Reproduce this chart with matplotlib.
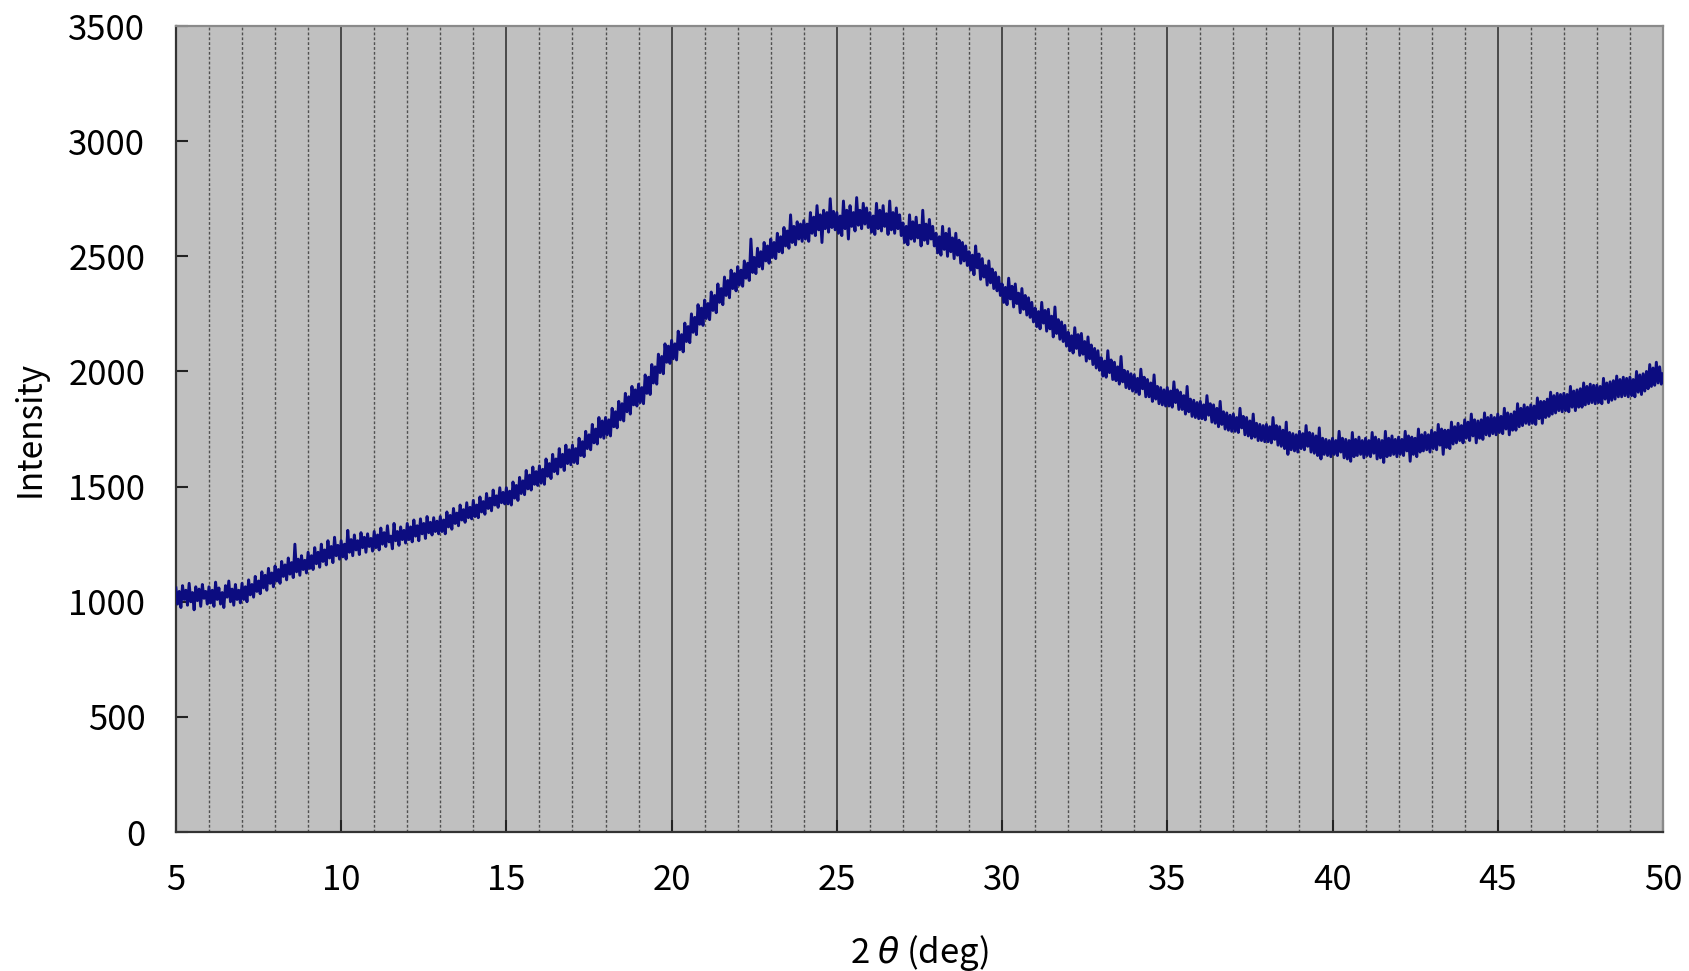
import numpy as np
import matplotlib
matplotlib.use("Agg")
import matplotlib.pyplot as plt
from matplotlib.ticker import MultipleLocator

plt.rcParams['font.family'] = ['Noto Sans CJK JP', 'DejaVu Sans']
plt.rcParams['mathtext.fontset'] = 'dejavusans'

# 2theta start/step (deg)
two_theta_start = 5.0
two_theta_step = 0.05

# Intensity values, one row per degree (d.00 ... d.95)
intensity_rows = [
    [1060, 990, 1045, 975, 1070, 1010, 1050, 985, 1080, 1000, 1040, 965, 1065, 1005, 1055, 980, 1075, 1015, 1045, 990],   # 5
    [1065, 995, 1050, 980, 1085, 1010, 1060, 990, 1040, 975, 1070, 1020, 1090, 1000, 1055, 985, 1075, 1010, 1050, 995],   # 6
    [1080, 1010, 1065, 1000, 1095, 1030, 1075, 1020, 1110, 1045, 1090, 1035, 1130, 1060, 1115, 1050, 1145, 1080, 1125, 1065],  # 7
    [1155, 1090, 1140, 1080, 1175, 1110, 1160, 1095, 1190, 1120, 1170, 1105, 1250, 1130, 1185, 1115, 1200, 1140, 1180, 1125],  # 8
    [1215, 1145, 1200, 1140, 1235, 1165, 1215, 1150, 1250, 1175, 1225, 1160, 1265, 1190, 1240, 1170, 1280, 1200, 1245, 1185],  # 9
    [1265, 1195, 1250, 1185, 1310, 1215, 1270, 1200, 1290, 1225, 1265, 1205, 1300, 1235, 1280, 1215, 1295, 1240, 1275, 1220],  # 10
    [1305, 1235, 1290, 1225, 1320, 1250, 1300, 1240, 1330, 1260, 1285, 1230, 1340, 1265, 1305, 1245, 1325, 1270, 1310, 1255],  # 11
    [1340, 1270, 1325, 1260, 1355, 1285, 1330, 1265, 1360, 1295, 1340, 1275, 1370, 1300, 1345, 1290, 1365, 1305, 1350, 1295],  # 12
    [1370, 1305, 1355, 1295, 1390, 1325, 1375, 1315, 1405, 1340, 1385, 1330, 1420, 1355, 1400, 1345, 1430, 1365, 1410, 1360],  # 13
    [1440, 1370, 1420, 1365, 1455, 1390, 1435, 1380, 1470, 1405, 1450, 1395, 1485, 1420, 1460, 1410, 1495, 1430, 1475, 1425],  # 14
    [1495, 1425, 1480, 1420, 1520, 1450, 1505, 1440, 1540, 1470, 1525, 1465, 1570, 1490, 1550, 1485, 1585, 1510, 1565, 1505],  # 15
    [1590, 1515, 1575, 1510, 1620, 1545, 1600, 1535, 1640, 1565, 1620, 1555, 1665, 1585, 1640, 1570, 1680, 1600, 1660, 1595],  # 16
    [1680, 1605, 1665, 1600, 1710, 1635, 1695, 1630, 1740, 1665, 1725, 1660, 1770, 1690, 1750, 1685, 1800, 1715, 1785, 1710],  # 17
    [1800, 1725, 1790, 1720, 1840, 1760, 1825, 1755, 1870, 1790, 1860, 1785, 1905, 1825, 1890, 1815, 1935, 1855, 1920, 1850],  # 18
    [1945, 1865, 1930, 1860, 1985, 1905, 1975, 1900, 2030, 1950, 2020, 1945, 2075, 1995, 2065, 1990, 2120, 2040, 2110, 2035],  # 19
    [2135, 2055, 2120, 2050, 2175, 2095, 2160, 2085, 2210, 2130, 2195, 2125, 2250, 2170, 2235, 2160, 2290, 2205, 2275, 2200],  # 20
    [2310, 2230, 2295, 2225, 2345, 2265, 2330, 2255, 2380, 2300, 2360, 2290, 2410, 2330, 2395, 2320, 2440, 2360, 2425, 2350],  # 21
    [2455, 2375, 2440, 2370, 2480, 2405, 2470, 2395, 2575, 2430, 2495, 2425, 2535, 2455, 2520, 2445, 2560, 2480, 2545, 2470],  # 22
    [2575, 2495, 2560, 2490, 2600, 2520, 2585, 2515, 2625, 2545, 2610, 2535, 2680, 2560, 2630, 2550, 2650, 2575, 2640, 2565],  # 23
    [2655, 2575, 2640, 2565, 2690, 2600, 2670, 2590, 2720, 2615, 2680, 2560, 2700, 2620, 2690, 2605, 2750, 2625, 2695, 2615],  # 24
    [2690, 2600, 2675, 2590, 2740, 2620, 2700, 2575, 2720, 2630, 2690, 2610, 2755, 2635, 2700, 2620, 2730, 2640, 2710, 2625],  # 25
    [2690, 2605, 2675, 2595, 2730, 2620, 2700, 2610, 2720, 2630, 2685, 2595, 2740, 2615, 2690, 2600, 2710, 2620, 2680, 2590],  # 26
    [2645, 2560, 2630, 2550, 2680, 2575, 2650, 2565, 2670, 2580, 2635, 2545, 2700, 2570, 2640, 2555, 2660, 2575, 2630, 2545],  # 27
    [2600, 2515, 2585, 2505, 2630, 2530, 2600, 2500, 2620, 2520, 2580, 2490, 2600, 2505, 2570, 2470, 2560, 2480, 2545, 2460],  # 28
    [2520, 2440, 2505, 2420, 2545, 2450, 2510, 2400, 2490, 2410, 2460, 2375, 2480, 2385, 2445, 2360, 2430, 2350, 2410, 2330],  # 29
    [2380, 2300, 2365, 2290, 2405, 2315, 2370, 2280, 2380, 2295, 2340, 2255, 2360, 2270, 2330, 2245, 2320, 2235, 2300, 2215],  # 30
    [2275, 2195, 2260, 2185, 2300, 2210, 2265, 2175, 2270, 2185, 2240, 2150, 2280, 2165, 2225, 2140, 2215, 2130, 2200, 2110],  # 31
    [2170, 2090, 2155, 2080, 2190, 2100, 2160, 2070, 2165, 2075, 2130, 2045, 2150, 2055, 2115, 2030, 2100, 2015, 2090, 2005],  # 32
    [2060, 1980, 2045, 1975, 2090, 1995, 2050, 1965, 2040, 1960, 2020, 1945, 2065, 1955, 2005, 1930, 2000, 1925, 1990, 1915],  # 33
    [1985, 1910, 1970, 1900, 2010, 1925, 1975, 1890, 1965, 1890, 1950, 1870, 1985, 1880, 1935, 1860, 1930, 1855, 1920, 1850],  # 34
    [1930, 1850, 1915, 1845, 1955, 1865, 1920, 1835, 1910, 1835, 1895, 1815, 1935, 1825, 1880, 1805, 1875, 1800, 1865, 1795],  # 35
    [1870, 1795, 1855, 1790, 1895, 1810, 1860, 1780, 1855, 1775, 1840, 1760, 1870, 1770, 1825, 1750, 1820, 1745, 1810, 1740],  # 36
    [1815, 1740, 1800, 1735, 1840, 1755, 1805, 1725, 1800, 1720, 1785, 1710, 1815, 1715, 1775, 1700, 1770, 1700, 1765, 1695],  # 37
    [1770, 1695, 1760, 1690, 1800, 1705, 1765, 1680, 1760, 1675, 1745, 1665, 1780, 1640, 1735, 1660, 1730, 1655, 1725, 1650],  # 38
    [1740, 1665, 1730, 1660, 1765, 1675, 1735, 1650, 1730, 1645, 1720, 1635, 1755, 1620, 1710, 1640, 1705, 1635, 1700, 1630],  # 39
    [1710, 1640, 1700, 1635, 1740, 1650, 1710, 1625, 1705, 1620, 1700, 1610, 1735, 1630, 1705, 1635, 1715, 1640, 1700, 1625],  # 40
    [1710, 1635, 1700, 1630, 1735, 1645, 1715, 1620, 1705, 1625, 1700, 1605, 1740, 1630, 1710, 1635, 1720, 1640, 1705, 1630],  # 41
    [1715, 1640, 1705, 1635, 1740, 1655, 1720, 1610, 1715, 1640, 1710, 1630, 1750, 1650, 1725, 1655, 1735, 1660, 1725, 1650],  # 42
    [1745, 1665, 1735, 1660, 1770, 1680, 1750, 1640, 1745, 1670, 1745, 1665, 1780, 1685, 1760, 1690, 1775, 1700, 1765, 1690],  # 43
    [1790, 1710, 1780, 1700, 1815, 1720, 1790, 1690, 1785, 1710, 1790, 1705, 1820, 1725, 1800, 1720, 1810, 1730, 1800, 1725],  # 44
    [1815, 1735, 1805, 1730, 1840, 1750, 1820, 1725, 1815, 1745, 1825, 1745, 1860, 1760, 1840, 1765, 1855, 1775, 1845, 1770],  # 45
    [1855, 1775, 1850, 1770, 1885, 1795, 1870, 1775, 1870, 1800, 1880, 1805, 1910, 1815, 1895, 1820, 1905, 1830, 1900, 1825],  # 46
    [1905, 1830, 1900, 1825, 1935, 1845, 1915, 1830, 1920, 1845, 1925, 1845, 1950, 1855, 1935, 1860, 1945, 1865, 1940, 1860],  # 47
    [1940, 1865, 1935, 1860, 1970, 1880, 1950, 1865, 1955, 1875, 1960, 1880, 1980, 1890, 1965, 1890, 1975, 1895, 1970, 1890],  # 48
    [1975, 1895, 1965, 1890, 2000, 1910, 1985, 1900, 1990, 1915, 2000, 1925, 2030, 1935, 2015, 1940, 2040, 1950, 2020, 1945],  # 49
    [1990],  # 50
]

x_ticks = [5, 10, 15, 20, 25, 30, 35, 40, 45, 50]
y_ticks = [0, 500, 1000, 1500, 2000, 2500, 3000, 3500]
x_label = '2 $\\theta$ (deg)'
y_label = 'Intensity'

intensity = np.array([v for row in intensity_rows for v in row], dtype=float)
two_theta = two_theta_start + two_theta_step * np.arange(len(intensity))

fig = plt.figure(figsize=(16.9, 9.71), dpi=100)
ax = fig.add_axes([0.1041, 0.1431, 0.8799, 0.8301])
ax.set_facecolor('#c0c0c0')

ax.plot(two_theta, intensity, color='#0c0c80', lw=2.1, zorder=3)

ax.set_xlim(5, 50)
ax.set_ylim(0, 3500)
ax.set_xticks(x_ticks)
ax.set_yticks(y_ticks)
ax.xaxis.set_minor_locator(MultipleLocator(1))

ax.grid(which='major', axis='x', color='#404040', lw=1.3, ls='-', zorder=1)
ax.grid(which='minor', axis='x', color='#505050', lw=1.0, ls=(0, (2, 1.5)), zorder=1)
ax.set_axisbelow(True)

ax.tick_params(which='major', direction='in', length=8.5, width=1.5,
               labelsize=25, pad=22, colors='#222222', labelcolor='black')
ax.tick_params(which='minor', length=0)

for s in ['left', 'bottom']:
    ax.spines[s].set_color('#333333')
    ax.spines[s].set_linewidth(1.6)
for s in ['top', 'right']:
    ax.spines[s].set_color('#8a8a8a')
    ax.spines[s].set_linewidth(1.6)

ax.set_xlabel(x_label, fontsize=25)
ax.xaxis.set_label_coords(0.5, -0.125)
ax.set_ylabel(y_label, fontsize=24)
ax.yaxis.set_label_coords(-0.086, 0.5)

fig.savefig('out.png', dpi=100)
